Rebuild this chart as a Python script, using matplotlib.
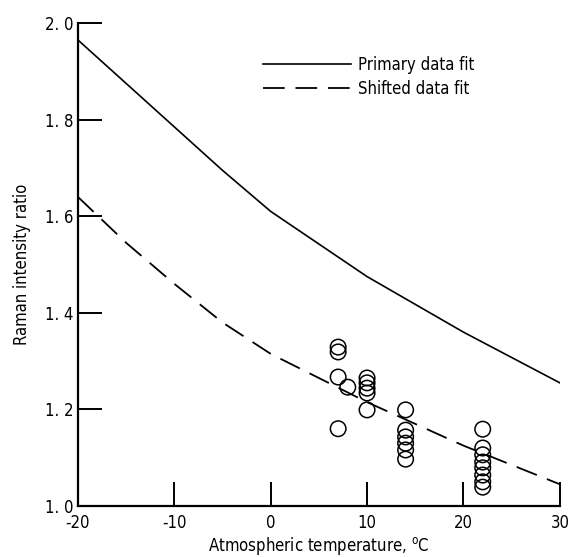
import matplotlib
matplotlib.use("Agg")
import matplotlib.pyplot as plt

# Кривые аппроксимации
fit_temp = [-20, -15, -10, -5, 0, 10, 20, 30]
primary_fit = [1.965, 1.875, 1.785, 1.695, 1.61, 1.475, 1.36, 1.255]
shifted_fit = [1.64, 1.545, 1.46, 1.38, 1.315, 1.215, 1.125, 1.045]

# Измеренные точки
obs_temp = [7, 7, 7, 8, 7,
            10, 10, 10, 10, 10,
            14, 14, 14, 14, 14, 14,
            22, 22, 22, 22, 22, 22, 22, 22]
obs_ratio = [1.329, 1.319, 1.267, 1.246, 1.16,
             1.265, 1.255, 1.244, 1.234, 1.199,
             1.199, 1.157, 1.143, 1.130, 1.116, 1.097,
             1.159, 1.120, 1.106, 1.091, 1.079, 1.064, 1.050, 1.039]

x_ticks = [-20, -10, 0, 10, 20, 30]
y_ticks = [1.0, 1.2, 1.4, 1.6, 1.8, 2.0]

plt.rcParams["font.family"] = ["DejaVu Sans"]
plt.rcParams["font.stretch"] = "condensed"
plt.rcParams["mathtext.fontset"] = "dejavusans"

fig = plt.figure(figsize=(5.73, 5.57), dpi=100)
ax = fig.add_axes([0.136, 0.0916, 0.841, 0.867])

ax.plot(fit_temp, primary_fit, color="black", lw=1.2, label="Primary data fit")
ax.plot(fit_temp, shifted_fit, color="black", lw=1.3, dashes=(12, 6), label="Shifted data fit")
ax.scatter(obs_temp, obs_ratio, s=125, facecolors="none", edgecolors="black", linewidths=1.1, zorder=3)

ax.set_xlim(-20, 30)
ax.set_ylim(1.0, 2.0)
ax.set_xticks(x_ticks)
ax.set_yticks(y_ticks)
ax.set_xticklabels([str(t) for t in x_ticks])
ax.set_yticklabels([f"{t:.1f}".replace(".", ". ") for t in y_ticks])

for side in ["top", "right"]:
    ax.spines[side].set_visible(False)
for side in ["left", "bottom"]:
    ax.spines[side].set_linewidth(1.6)

ax.tick_params(direction="in", length=17, width=1.4, labelsize=12)
ax.tick_params(axis="x", pad=6)
ax.tick_params(axis="y", pad=3)

ax.set_xlabel("Atmospheric temperature, $^{\\mathrm{o}}$C", fontsize=12, labelpad=2)
ax.set_ylabel("Raman intensity ratio", fontsize=12, labelpad=10)

ax.legend(loc="upper left", bbox_to_anchor=(0.37, 0.945), frameon=False,
          fontsize=12, handlelength=5.3, handletextpad=0.4, labelspacing=0.35,
          borderaxespad=0)

plt.savefig("out.png", dpi=100)
